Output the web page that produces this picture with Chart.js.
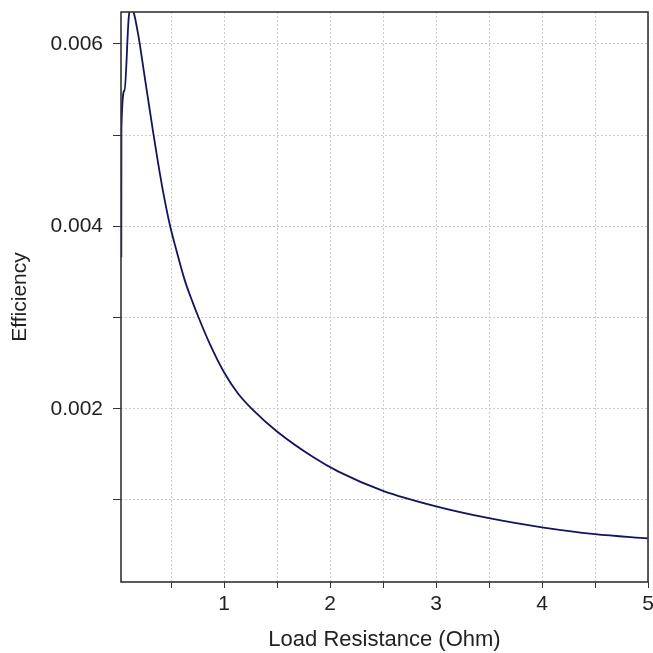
<!DOCTYPE html>
<html>
<head>
<meta charset="utf-8">
<script src="https://cdn.jsdelivr.net/npm/chart.js@4/dist/chart.umd.min.js"></script>
<style>
html,body{margin:0;padding:0;background:#fff;}
#wrap{width:653px;height:653px;position:relative;}
</style>
</head>
<body>
<div id="wrap"><canvas id="c" width="653" height="653"></canvas></div>
<script>
// Data
const loadResistance = [0.031, 0.032, 0.061, 0.101, 0.12, 0.151, 0.189, 0.205, 0.25, 0.3, 0.33, 0.377, 0.425, 0.488, 0.55, 0.629, 0.7, 0.76, 0.87, 1.0, 1.13, 1.27, 1.5, 1.84, 2.08, 2.5, 3.0, 3.5, 4.0, 4.5, 5.0];
const efficiency    = [0.00366, 0.00507, 0.00549, 0.00629, 0.0064, 0.00633, 0.00611, 0.006, 0.00565, 0.00527, 0.00504, 0.0047, 0.00438, 0.00402, 0.00374, 0.00341, 0.00318, 0.003, 0.0027, 0.0024, 0.00217, 0.00199, 0.00175, 0.00147, 0.00131, 0.0011, 0.00093, 0.0008, 0.0007, 0.000625, 0.000578];
const xTickValues = [0.5, 1, 1.5, 2, 2.5, 3, 3.5, 4, 4.5, 5];
const xTickLabels = ['', '1', '', '2', '', '3', '', '4', '', '5'];
const yTickValues = [0.001, 0.002, 0.003, 0.004, 0.005, 0.006];
const yTickLabels = ['', '0.002', '', '0.004', '', '0.006'];
const xTitle = 'Load Resistance (Ohm)';
const yTitle = 'Efficiency';

const points = loadResistance.map((x, i) => ({x: x, y: efficiency[i]}));
const FONT = 'Liberation Sans, Arial, sans-serif';

const frame = {
  id: 'frame',
  afterDatasetsDraw(chart) {
    const a = chart.chartArea, ctx = chart.ctx;
    ctx.save();
    ctx.strokeStyle = '#333';
    ctx.lineWidth = 1.6;
    ctx.strokeRect(a.left, a.top, a.right - a.left, a.bottom - a.top);
    ctx.restore();
  }
};

new Chart(document.getElementById('c'), {
  type: 'line',
  data: {
    datasets: [{
      data: points,
      borderColor: '#14145c',
      borderWidth: 1.8,
      pointRadius: 0,
      cubicInterpolationMode: 'monotone',
      fill: false
    }]
  },
  options: {
    responsive: false,
    animation: false,
    layout: {padding: {left: 0, top: 12, right: 5, bottom: 0}},
    plugins: {legend: {display: false}, tooltip: {enabled: false}},
    scales: {
      x: {
        type: 'linear',
        min: 0.028,
        max: 5,
        afterBuildTicks: s => { s.ticks = xTickValues.map(v => ({value: v})); },
        afterFit: s => { s.height = 71; s.paddingLeft = 0; s.paddingRight = 0; },
        ticks: {
          autoSkip: false,
          maxRotation: 0,
          padding: 4,
          color: '#222',
          font: {family: FONT, size: 21},
          callback: (v, i) => xTickLabels[i]
        },
        grid: {color: '#cccccc', tickColor: '#333', tickLength: 6, lineWidth: 1},
        border: {display: false, dash: [2, 2]},
        title: {display: true, text: xTitle, color: '#222', font: {family: FONT, size: 22}, padding: {top: 2, bottom: 0}}
      },
      y: {
        type: 'linear',
        min: 0.0001,
        max: 0.00635,
        afterBuildTicks: s => { s.ticks = yTickValues.map(v => ({value: v})); },
        afterFit: s => { s.width = 121; s.paddingTop = 0; s.paddingBottom = 0; },
        ticks: {
          autoSkip: false,
          padding: 10,
          color: '#222',
          font: {family: FONT, size: 21},
          callback: (v, i) => yTickLabels[i]
        },
        grid: {color: '#cccccc', tickColor: '#333', tickLength: 8, lineWidth: 1},
        border: {display: false, dash: [2, 2]},
        title: {display: true, text: yTitle, color: '#222', font: {family: FONT, size: 21}, padding: {top: 8, bottom: 0}}
      }
    }
  },
  plugins: [frame]
});
</script>
</body>
</html>
